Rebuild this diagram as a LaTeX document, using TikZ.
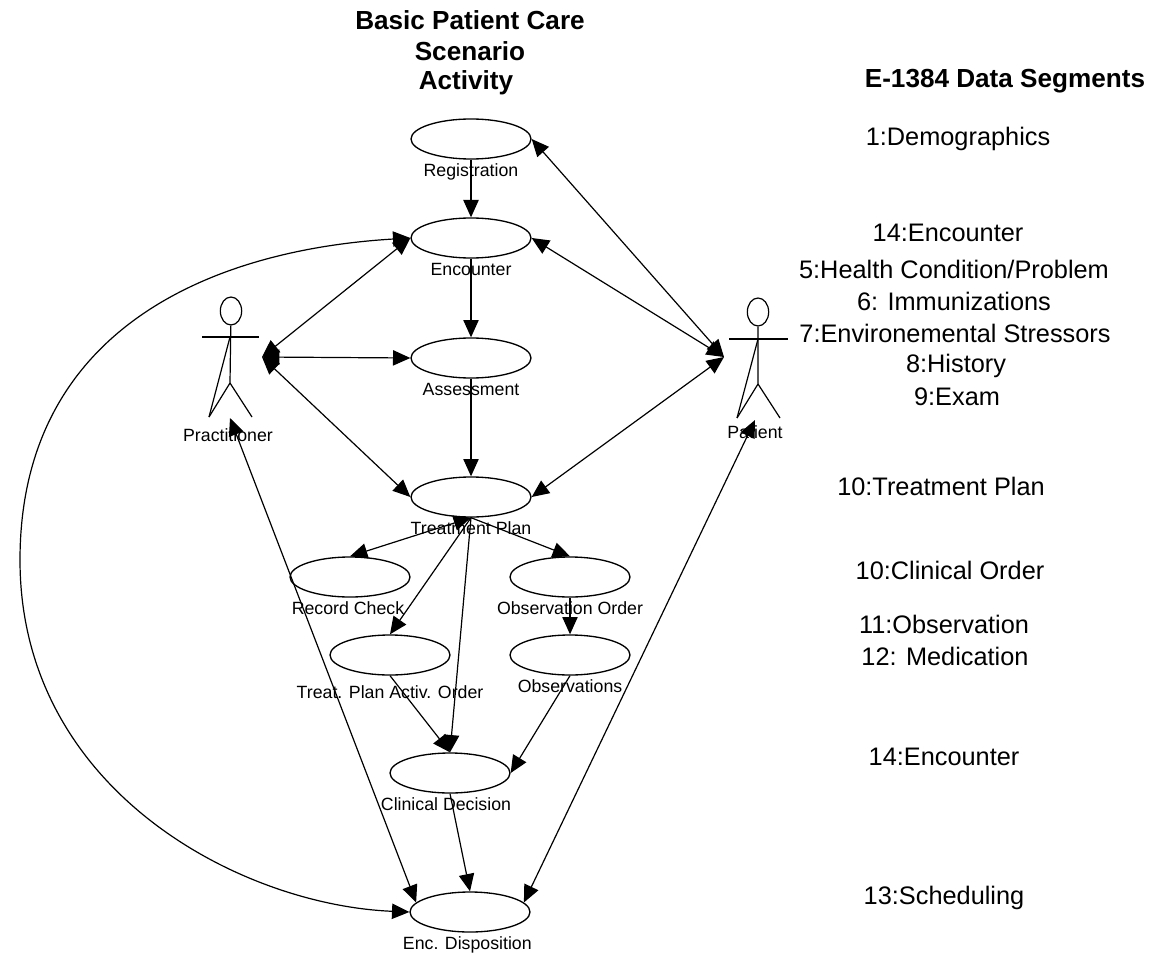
\documentclass[tikz,border=0pt]{standalone}
\usepackage{fontspec}
\setmainfont{Liberation Sans}
\usetikzlibrary{arrows.meta, positioning, shapes.geometric}
\newcommand*{\segfont}{\fontsize{19pt}{21pt}\selectfont}
\newcommand*{\casefont}{\fontsize{13.3pt}{15pt}\selectfont}
\newcommand*{\headfont}{\fontsize{19.6pt}{22pt}\selectfont\bfseries}

\begin{document}
\begin{tikzpicture}[
        x=0.75pt,y=-0.75pt,node distance=2pt,>={Triangle[length=13pt,width=11.5pt]},
        usecase/.style={ellipse,draw,line width=1pt,minimum width=90pt,minimum height=30pt,inner sep=0pt},
        caselabel/.style={font=\casefont,inner sep=1pt},
        seglabel/.style={font=\segfont,inner sep=0pt},
        headlabel/.style={font=\headfont,inner sep=0pt},
        actorhead/.style={ellipse,draw,line width=0.9pt,minimum width=16pt,minimum height=21pt,inner sep=0pt},
        actorline/.style={line width=0.9pt},
        link/.style={line width=0.9pt},
        ]
        \useasboundingbox (0,0) rectangle (1151,955);

        % titles
        \node[headlabel] (title1) at (470,20) {Basic Patient Care};
        \node[headlabel] (title2) at (470,51) {Scenario};
        \node[headlabel] (title3) at (466,83) {Activity};
        \node[headlabel] (segtitle) at (1005,81) {E-1384 Data Segments};

        % use cases
        \node[usecase] (registration) at (471,139) {};
        \node[usecase] (encounter) at (471,238) {};
        \node[usecase] (assessment) at (471,358) {};
        \node[usecase] (treatment) at (471,497) {};
        \node[usecase] (record) at (350,577) {};
        \node[usecase] (oborder) at (570,577) {};
        \node[usecase] (activ) at (390,655) {};
        \node[usecase] (observations) at (570,655) {};
        \node[usecase] (decision) at (450,773) {};
        \node[usecase] (disposition) at (470,912) {};

        \node[caselabel,below=of registration] (registrationtxt) {Registration};
        \node[caselabel,below=of encounter] (encountertxt) {Encounter};
        \node[caselabel,below=of assessment] (assessmenttxt) {Assessment};
        \node[caselabel,below=of treatment] (treatmenttxt) {Treatment Plan};
        \node[caselabel,below=of record,xshift=-1.5pt] (recordtxt) {Record Check};
        \node[caselabel,below=of oborder] (obordertxt) {Observation Order};
        \node[caselabel,below=6pt of activ] (activtxt) {Treat. Plan Activ. Order};
        \node[caselabel,below=of observations] (observationstxt) {Observations};
        \node[caselabel,below=of decision,xshift=-3pt] (decisiontxt) {Clinical Decision};
        \node[caselabel,below=of disposition,xshift=-2pt] (dispositiontxt) {Enc. Disposition};

        % actors
        \node[actorhead] (practhead) at (231,311) {};
        \coordinate (practneck) at (230,337);
        \coordinate (practhip) at (230,383);
        \coordinate (practarml) at (202,337);
        \coordinate (practarmr) at (259,337);
        \coordinate (practlegl) at (209,417);
        \coordinate (practlegr) at (252,417);
        \coordinate (practside) at (262,357);
        \coordinate (practfoot) at (230,418);
        \draw[actorline] (practhead) -- (practhip) -- (practlegl);
        \draw[actorline] (practhip) -- (practlegr);
        \draw[actorline] (practarml) -- (practarmr);
        \draw[actorline] (practneck) -- (practlegl);
        \node[caselabel] (practtxt) at (228,435) {Practitioner};

        \node[actorhead] (pathead) at (758,312) {};
        \coordinate (patneck) at (758,339);
        \coordinate (pathip) at (758,384);
        \coordinate (patarml) at (729,339);
        \coordinate (patarmr) at (788,339);
        \coordinate (patlegl) at (737,418);
        \coordinate (patlegr) at (780,418);
        \coordinate (patside) at (724,357);
        \coordinate (patfoot) at (755,420);
        \draw[actorline] (pathead) -- (pathip) -- (patlegl);
        \draw[actorline] (pathip) -- (patlegr);
        \draw[actorline] (patarml) -- (patarmr);
        \draw[actorline] (patneck) -- (patlegl);
        \node[caselabel] (pattxt) at (755,432) {Patient};

        % links
        \draw[link,->] (registration) -- (encounter);
        \draw[link,->] (encounter) -- (assessment);
        \draw[link,->] (assessment) -- (treatment);
        \draw[link,<->] (patside) -- (registration.east);
        \draw[link,<->] (patside) -- (encounter.east);
        \draw[link,<->] (patside) -- (treatment.east);
        \draw[link,<->] (practside) -- (encounter.west);
        \draw[link,<->] (practside) -- (assessment.west);
        \draw[link,<->] (practside) -- (treatment.west);
        \draw[link,<->] (encounter.west) .. controls (210,250) and (20,330) .. (20,560)
                        .. controls (20,790) and (240,905) .. (disposition.west);
        \draw[link,<->] (practfoot) -- (disposition.170);
        \draw[link,<->] (patfoot) -- (disposition.10);
        \draw[link,<->] (treatment.south) -- (record.north);
        \draw[link,->] (treatment.south) -- (activ.north);
        \draw[link,->] (treatment.south) -- (oborder.north);
        \draw[link,->] (treatment.south) -- (decision.north);
        \draw[link,->] (oborder) -- (observations);
        \draw[link,->] (activ.south) -- (decision.north);
        \draw[link,->] (observations.south) -- (decision.east);
        \draw[link,->] (decision.south) -- (disposition.north);

        % data segments
        \node[seglabel] (seg1) at (958,139) {1:Demographics};
        \node[seglabel] (seg14) at (948,233) {14:Encounter};
        \node[seglabel] (seg5) at (954,269) {5:Health Condition/Problem};
        \node[seglabel] (seg6) at (954,301) {6: Immunizations};
        \node[seglabel] (seg7) at (955,333) {7:Environemental Stressors};
        \node[seglabel] (seg8) at (956,366) {8:History};
        \node[seglabel] (seg9) at (957,397) {9:Exam};
        \node[seglabel] (seg10) at (941,486) {10:Treatment Plan};
        \node[seglabel] (seg10b) at (950,570) {10:Clinical Order};
        \node[seglabel] (seg11) at (944,624) {11:Observation};
        \node[seglabel] (seg12) at (945,656) {12: Medication};
        \node[seglabel] (seg14b) at (944,757) {14:Encounter};
        \node[seglabel] (seg13) at (944,898) {13:Scheduling};
      \end{tikzpicture}
\end{document}
